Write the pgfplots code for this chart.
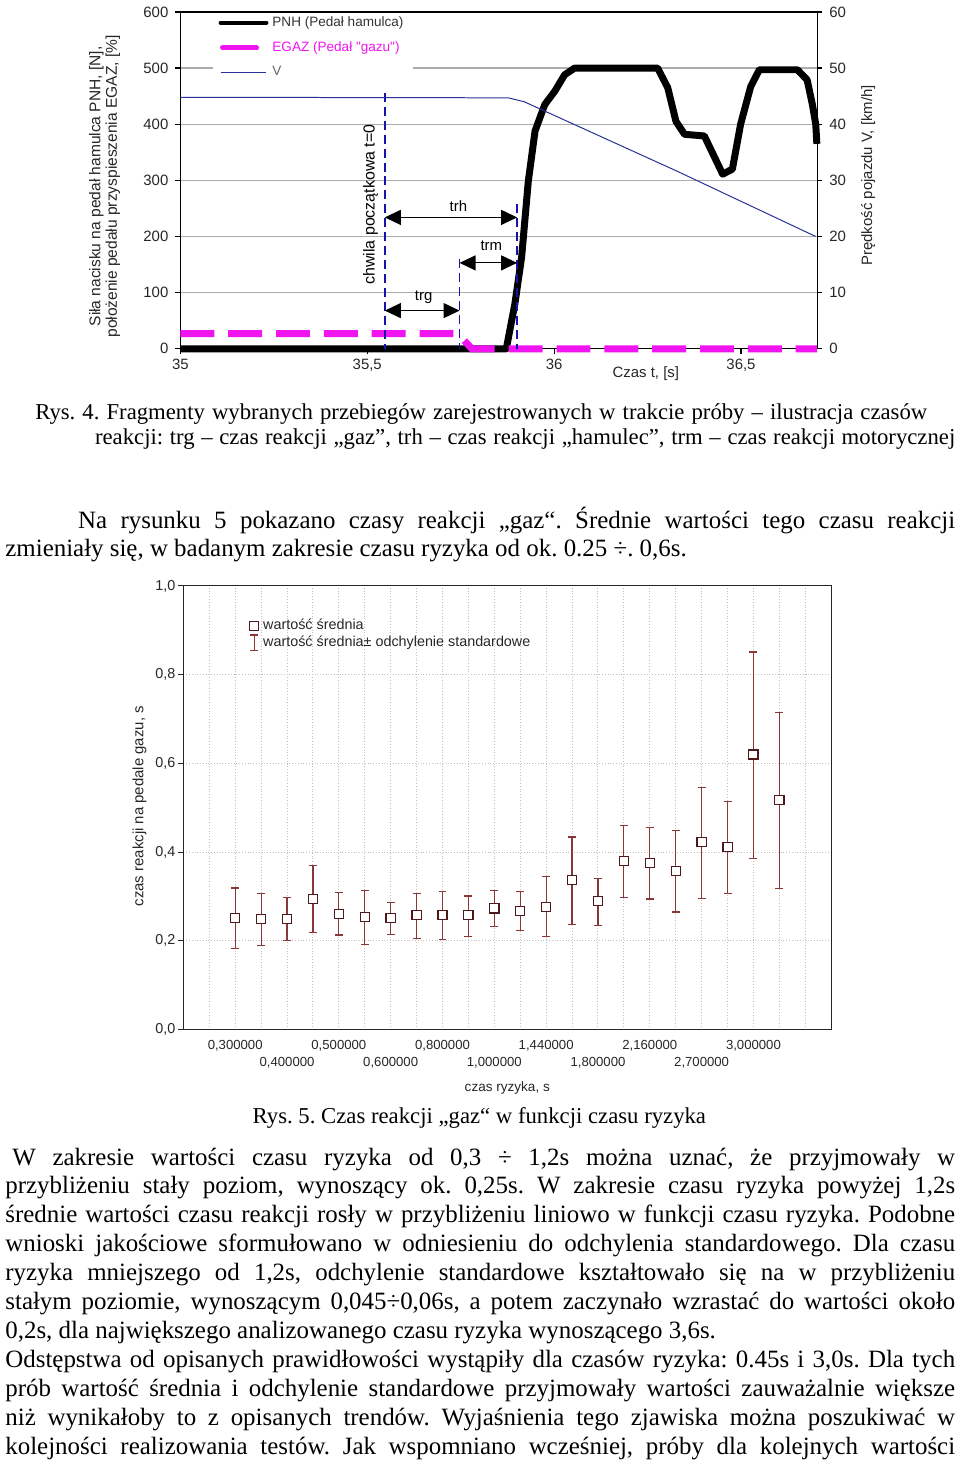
\documentclass[border=0pt]{standalone}
\usepackage{fontspec}
\setmainfont{Liberation Serif}
\newfontfamily\arial{Liberation Sans}
\usepackage{pgfplots}
\pgfplotsset{compat=1.18}
\usepackage{pgfplotstable}
\usetikzlibrary{arrows.meta}
\frenchspacing

\definecolor{magc}{RGB}{240,20,240}
\definecolor{navyc}{RGB}{40,50,150}
\definecolor{dashblue}{RGB}{20,20,170}
\definecolor{errcol}{RGB}{140,55,55}
\definecolor{sqcol}{RGB}{80,25,25}

\pgfplotstableread{
x y ep em
2 0.252 0.067 0.070
3 0.249 0.057 0.060
4 0.249 0.048 0.048
5 0.294 0.076 0.075
6 0.260 0.049 0.047
7 0.254 0.060 0.063
8 0.252 0.034 0.037
9 0.258 0.048 0.053
10 0.258 0.054 0.056
11 0.258 0.043 0.048
12 0.273 0.040 0.041
13 0.267 0.044 0.044
14 0.276 0.069 0.066
15 0.337 0.097 0.100
16 0.290 0.050 0.055
17 0.380 0.080 0.083
18 0.375 0.081 0.081
19 0.358 0.090 0.093
20 0.423 0.123 0.128
21 0.412 0.102 0.106
22 0.620 0.231 0.235
23 0.518 0.197 0.200
}\gazdata

\newcommand\bodyfont{\fontsize{12.5}{14}\selectfont}
\newcommand\capfont{\fontsize{11.4}{13}\selectfont}
\newcommand\xtf{\arial\fontsize{6.6}{7}\selectfont}

\begin{document}
\begin{tikzpicture}
\begin{scope}[x=0.5pt,y=-0.5pt]
\useasboundingbox (0,0) rectangle (960,1462);
\end{scope}

% ---------------- top chart ----------------
\begin{axis}[
  at={(90.5pt,-172.5pt)}, anchor=south west,
  scale only axis, width=319.5pt, height=169pt,
  xmin=35, xmax=36.704, ymin=0, ymax=600,
  clip=false,
  xtick={35,35.5,36,36.5}, xticklabels={35,{35,5},36,{36,5}},
  ytick={0,100,200,300,400,500,600}, yticklabels={0,100,200,300,400,500,600},
  ytick pos=left, xtick pos=bottom,
  tick align=outside, major tick length=2.5pt,
  ymajorgrids, grid style={gray!65, line width=0.6pt},
  axis line style={black, line width=0.6pt},
  tick style={black, line width=0.6pt},
  tick label style={font=\arial\fontsize{7.5}{8.5}\selectfont, text=black!85},
  xticklabel style={yshift=1pt},
  legend style={at={(0.05,1.0)}, anchor=north west, draw=none, fill=white,
    font=\arial\fontsize{6.8}{7.8}\selectfont, row sep=2.2pt, inner xsep=3pt, inner ysep=0pt},
  legend cell align=left,
]
\addplot[black, line width=3.5pt, line join=round,
  legend image code/.code={\draw[black, line width=2pt, line cap=round] (0pt,0pt) -- (23pt,0pt);}]
  coordinates {(35.000,0) (35.872,0) (35.895,80) (35.913,163) (35.931,299) (35.949,388) (35.975,435) (36.002,459) (36.028,488) (36.055,500) (36.277,500) (36.304,465) (36.326,405) (36.349,382) (36.402,379) (36.451,311) (36.477,320) (36.499,400) (36.526,467) (36.549,497) (36.651,497) (36.677,479) (36.691,435) (36.700,400) (36.703,365)};
\addlegendentry{\textcolor{black!80}{PNH (Pedał hamulca)}}
\addplot[magc, line width=3.5pt, dash pattern=on 17pt off 7pt,
  legend image code/.code={\draw[magc, line width=2.6pt, line cap=round] (1pt,0pt) -- (22pt,0pt);}]
  coordinates {(35.000,27) (35.742,27) (35.780,0) (36.704,0)};
\addlegendentry{\textcolor{magc}{EGAZ (Pedał "gazu")}}
\addlegendimage{navyc, line width=0.5pt, legend image code/.code={\draw[navyc, line width=0.5pt] (0pt,0pt) -- (23pt,0pt);}}
\addlegendentry{\textcolor{black!60}{V}}

% annotations
\draw[dashblue, line width=0.8pt, dash pattern=on 4.5pt off 2.5pt] (axis cs:35.547,456) -- (axis cs:35.547,0);
\draw[dashblue, line width=0.8pt, dash pattern=on 4.5pt off 2.5pt] (axis cs:35.747,160) -- (axis cs:35.747,0);
\draw[dashblue, line width=0.8pt, dash pattern=on 4.5pt off 2.5pt] (axis cs:35.901,257) -- (axis cs:35.901,0);
\draw[black, line width=0.6pt, {Triangle[length=8pt,width=7.5pt]}-{Triangle[length=8pt,width=7.5pt]}] (axis cs:35.547,234) -- (axis cs:35.901,234);
\draw[black, line width=0.6pt, {Triangle[length=8pt,width=7.5pt]}-{Triangle[length=8pt,width=7.5pt]}] (axis cs:35.747,153) -- (axis cs:35.901,153);
\draw[black, line width=0.6pt, {Triangle[length=8pt,width=7.5pt]}-{Triangle[length=8pt,width=7.5pt]}] (axis cs:35.547,68) -- (axis cs:35.747,68);
\node[font=\arial\fontsize{7.5}{8}\selectfont] at (axis cs:35.744,254) {trh};
\node[font=\arial\fontsize{7.5}{8}\selectfont] at (axis cs:35.832,183) {trm};
\node[font=\arial\fontsize{7.5}{8}\selectfont] at (axis cs:35.651,91) {trg};
\node[font=\arial\fontsize{8}{9}\selectfont, rotate=90] at (axis cs:35.509,257) {chwila początkowa t=0};
\end{axis}

\begin{axis}[
  at={(90.5pt,-172.5pt)}, anchor=south west,
  scale only axis, width=319.5pt, height=169pt,
  xmin=35, xmax=36.704, ymin=0, ymax=60,
  axis y line*=right, axis x line=none,
  clip=false,
  ytick={0,10,20,30,40,50,60}, yticklabels={0,10,20,30,40,50,60},
  tick align=outside, major tick length=2.5pt,
  axis line style={black, line width=0.6pt},
  tick style={black, line width=0.6pt},
  tick label style={font=\arial\fontsize{7.5}{8.5}\selectfont, text=black!85},
]
\addplot[navyc, line width=0.5pt] coordinates {(35.000,44.8) (35.877,44.7) (35.920,44.0) (36.330,31.6) (36.700,20.0)};
\draw[black, line width=0.6pt] (rel axis cs:0,1) -- (rel axis cs:1,1);
\end{axis}

% ---------------- bottom chart ----------------
\begin{axis}[
  at={(92pt,-514pt)}, anchor=south west,
  scale only axis, width=325pt, height=222.5pt,
  xmin=0, xmax=25, ymin=0, ymax=1,
  clip=false,
  xtick={1,...,24}, xticklabels={},
  ytick={0,0.2,0.4,0.6,0.8,1}, yticklabels={{0,0},{0,2},{0,4},{0,6},{0,8},{1,0}},
  ytick pos=left, tick align=outside, major tick length=2.5pt,
  x tick style={draw=none},
  xmajorgrids, ymajorgrids,
  grid style={densely dotted, gray!50, line width=0.5pt},
  axis line style={black!85, line width=0.5pt},
  tick style={black!85, line width=0.5pt},
  tick label style={font=\arial\fontsize{7.2}{8}\selectfont, text=black!85},
  yticklabel style={xshift=2pt},
  legend style={at={(0.098,0.94)}, anchor=north west, draw=none, fill=none,
    font=\arial\fontsize{7.2}{8}\selectfont, row sep=-2.2pt, inner sep=1pt},
  legend cell align=left,
]
\addlegendimage{legend image code/.code={\draw[sqcol, fill=white, line width=0.6pt] (4pt,-2.2pt) rectangle (8.4pt,2.2pt);}}
\addlegendentry{\textcolor{black!85}{wartość średnia}}
\addlegendimage{legend image code/.code={\draw[errcol, line width=0.6pt] (6.2pt,-4pt) -- (6.2pt,4pt) (4.2pt,4pt) -- (8.2pt,4pt) (4.2pt,-4pt) -- (8.2pt,-4pt);}}
\addlegendentry{\textcolor{black!85}{wartość średnia± odchylenie standardowe}}

\addplot[draw=none, mark=none, forget plot,
  error bars/.cd, y dir=both, y explicit,
  error bar style={errcol, line width=0.6pt},
  error mark options={errcol, rotate=90, mark size=2pt, line width=0.6pt}]
  table[x=x, y=y, y error plus=ep, y error minus=em] {\gazdata};
\addplot[only marks, mark=square*, mark size=2.3pt, forget plot,
  mark options={draw=sqcol, fill=white, line width=0.6pt}]
  table[x=x, y=y] {\gazdata};

\node[font=\xtf, text=black!85, yshift=-8pt] at (axis cs:2,0) {0,300000};
\node[font=\xtf, text=black!85, yshift=-8pt] at (axis cs:6,0) {0,500000};
\node[font=\xtf, text=black!85, yshift=-8pt] at (axis cs:10,0) {0,800000};
\node[font=\xtf, text=black!85, yshift=-8pt] at (axis cs:14,0) {1,440000};
\node[font=\xtf, text=black!85, yshift=-8pt] at (axis cs:18,0) {2,160000};
\node[font=\xtf, text=black!85, yshift=-8pt] at (axis cs:22,0) {3,000000};
\node[font=\xtf, text=black!85, yshift=-16.5pt] at (axis cs:4,0) {0,400000};
\node[font=\xtf, text=black!85, yshift=-16.5pt] at (axis cs:8,0) {0,600000};
\node[font=\xtf, text=black!85, yshift=-16.5pt] at (axis cs:12,0) {1,000000};
\node[font=\xtf, text=black!85, yshift=-16.5pt] at (axis cs:16,0) {1,800000};
\node[font=\xtf, text=black!85, yshift=-16.5pt] at (axis cs:20,0) {2,700000};
\node[font=\arial\fontsize{6.8}{7}\selectfont, text=black!85, yshift=-29.5pt] at (axis cs:12.5,0) {czas ryzyka, s};
\end{axis}

% ---------------- texts ----------------
\begin{scope}[x=0.5pt,y=-0.5pt]
\node[font=\arial\fontsize{7.8}{8.2}\selectfont, rotate=90, align=center, text=black!85] at (105,182) {Siła nacisku na pedał hamulca PNH, [N],\\ położenie pedału przyspieszenia EGAZ, [\%]};
\node[font=\arial\fontsize{7.5}{8}\selectfont, rotate=90, text=black!85] at (871,171) {Prędkość pojazdu V, [km/h]};
\node[font=\arial\fontsize{7.5}{8}\selectfont, text=black!85] at (648,370) {Czas t, [s]};
\node[font=\arial\fontsize{7.5}{8}\selectfont, rotate=90, text=black!85] at (140,804) {czas reakcji na pedale gazu, s};

\node[anchor=base west, inner sep=0pt, font=\capfont] at (35,416) {\makebox[447.5pt][s]{Rys. 4. Fragmenty wybranych przebiegów zarejestrowanych w trakcie próby – ilustracja czasów}};
\node[anchor=base west, inner sep=0pt, font=\capfont] at (95,441) {\makebox[431.5pt][s]{reakcji: trg – czas reakcji „gaz”, trh – czas reakcji „hamulec”, trm – czas reakcji motorycznej}};

\node[anchor=base west, inner sep=0pt, font=\bodyfont] at (78,525) {\makebox[440pt][s]{Na rysunku 5 pokazano czasy reakcji „gaz“. Średnie wartości tego czasu reakcji}};
\node[anchor=base west, inner sep=0pt, font=\bodyfont] at (5,553) {zmieniały się, w badanym zakresie czasu ryzyka od ok. 0.25 ÷. 0,6s.};

\node[anchor=base, inner sep=0pt, font=\capfont] at (481,1122) {Rys. 5. Czas reakcji „gaz“ w funkcji czasu ryzyka};

\node[anchor=base west, inner sep=0pt, font=\bodyfont] at (12,1164) {\makebox[473pt][s]{W zakresie wartości czasu ryzyka od 0,3 ÷ 1,2s można uznać, że przyjmowały w}};
\node[anchor=base west, inner sep=0pt, font=\bodyfont] at (5,1193) {\makebox[476.5pt][s]{przybliżeniu stały poziom, wynoszący ok. 0,25s. W zakresie czasu ryzyka powyżej 1,2s}};
\node[anchor=base west, inner sep=0pt, font=\bodyfont] at (5,1222) {\makebox[476.5pt][s]{średnie wartości czasu reakcji rosły w przybliżeniu liniowo w funkcji czasu ryzyka. Podobne}};
\node[anchor=base west, inner sep=0pt, font=\bodyfont] at (5,1251) {\makebox[476.5pt][s]{wnioski jakościowe sformułowano w odniesieniu do odchylenia standardowego. Dla czasu}};
\node[anchor=base west, inner sep=0pt, font=\bodyfont] at (5,1280) {\makebox[476.5pt][s]{ryzyka mniejszego od 1,2s, odchylenie standardowe kształtowało się na w przybliżeniu}};
\node[anchor=base west, inner sep=0pt, font=\bodyfont] at (5,1309) {\makebox[476.5pt][s]{stałym poziomie, wynoszącym 0,045÷0,06s, a potem zaczynało wzrastać do wartości około}};
\node[anchor=base west, inner sep=0pt, font=\bodyfont] at (5,1338) {0,2s, dla największego analizowanego czasu ryzyka wynoszącego 3,6s.};
\node[anchor=base west, inner sep=0pt, font=\bodyfont] at (5,1367) {\makebox[476.5pt][s]{Odstępstwa od opisanych prawidłowości wystąpiły dla czasów ryzyka: 0.45s i 3,0s. Dla tych}};
\node[anchor=base west, inner sep=0pt, font=\bodyfont] at (5,1396) {\makebox[476.5pt][s]{prób wartość średnia i odchylenie standardowe przyjmowały wartości zauważalnie większe}};
\node[anchor=base west, inner sep=0pt, font=\bodyfont] at (5,1425) {\makebox[476.5pt][s]{niż wynikałoby to z opisanych trendów. Wyjaśnienia tego zjawiska można poszukiwać w}};
\node[anchor=base west, inner sep=0pt, font=\bodyfont] at (5,1454) {\makebox[476.5pt][s]{kolejności realizowania testów. Jak wspomniano wcześniej, próby dla kolejnych wartości}};
\end{scope}
\end{tikzpicture}
\end{document}
